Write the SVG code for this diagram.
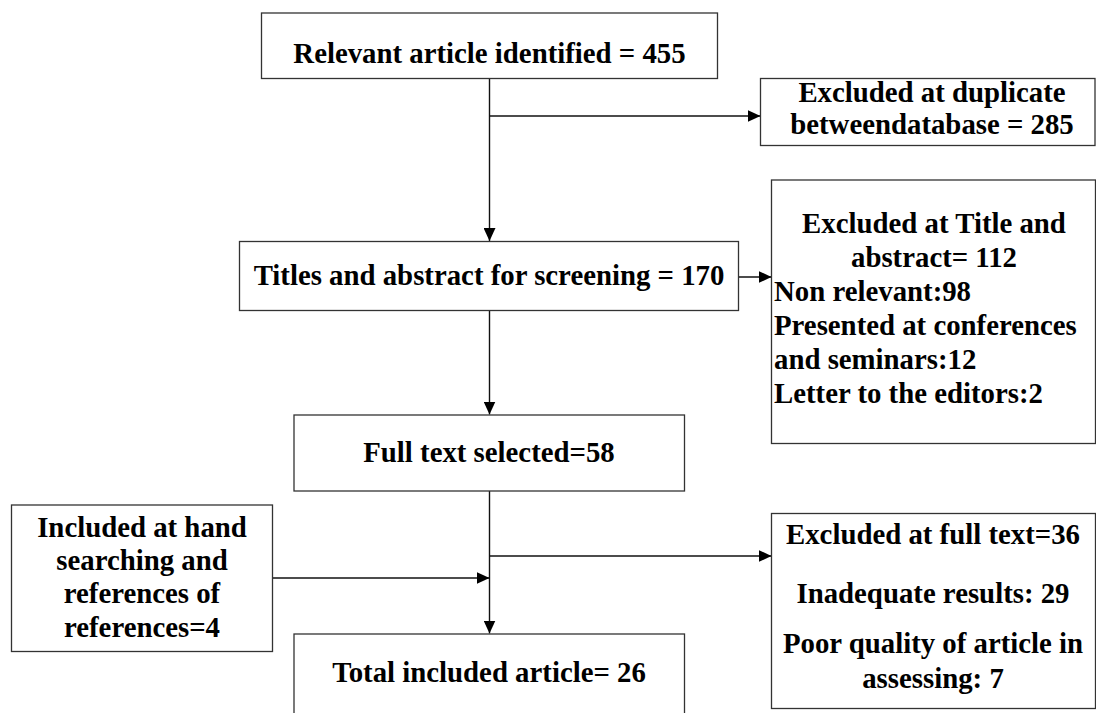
<svg xmlns="http://www.w3.org/2000/svg" width="1096" height="713" viewBox="0 0 1096 713">
  <style>
    .box { fill: #ffffff; stroke: #333333; stroke-width: 1.3; }
    .t { font-family: "Liberation Serif", "Times New Roman", serif; font-weight: bold; font-size: 28.8px; fill: #000000; }
    .c { text-anchor: middle; }
    .l { text-anchor: start; }
    .edge { stroke: #111111; stroke-width: 1.4; fill: none; }
  </style>
  <defs>
    <marker id="arr" viewBox="0 0 13 12" refX="13" refY="6" markerWidth="13" markerHeight="12" markerUnits="userSpaceOnUse" orient="auto">
      <path d="M0,0 L13,6 L0,12 z" fill="#000000"/>
    </marker>
  </defs>
  <rect width="1096" height="713" fill="#ffffff"/>

  <g id="connectors">
    <line class="edge" x1="489.5" y1="78.5" x2="489.5" y2="241" marker-end="url(#arr)"/>
    <line class="edge" x1="489.5" y1="116" x2="760.5" y2="116" marker-end="url(#arr)"/>
    <line class="edge" x1="738.5" y1="277" x2="771.5" y2="277" marker-end="url(#arr)"/>
    <line class="edge" x1="489.5" y1="310.5" x2="489.5" y2="414.5" marker-end="url(#arr)"/>
    <line class="edge" x1="489.5" y1="491" x2="489.5" y2="633.5" marker-end="url(#arr)"/>
    <line class="edge" x1="489.5" y1="556" x2="771.5" y2="556" marker-end="url(#arr)"/>
    <line class="edge" x1="272.5" y1="578" x2="489.5" y2="578" marker-end="url(#arr)"/>
  </g>

  <g id="identified">
    <rect class="box" x="261.5" y="13" width="456" height="65.5"/>
    <text class="t c" x="489.5" y="63">Relevant article identified = 455</text>
  </g>

  <g id="duplicates">
    <rect class="box" x="760.5" y="78.5" width="334.5" height="67"/>
    <text class="t c" x="932" y="102">Excluded at duplicate</text>
    <text class="t c" x="932" y="134">betweendatabase = 285</text>
  </g>

  <g id="screening">
    <rect class="box" x="239.5" y="241.5" width="499" height="69"/>
    <text class="t c" x="489" y="285">Titles and abstract for screening = 170</text>
  </g>

  <g id="excluded-title">
    <rect class="box" x="771.5" y="180" width="324" height="263.5"/>
    <text class="t c" x="934" y="233">Excluded at Title and</text>
    <text class="t c" x="934" y="267">abstract= 112</text>
    <text class="t l" x="774" y="301">Non relevant:98</text>
    <text class="t l" x="774" y="335">Presented at conferences</text>
    <text class="t l" x="774" y="369">and seminars:12</text>
    <text class="t l" x="774" y="403">Letter to the editors:2</text>
  </g>

  <g id="fulltext">
    <rect class="box" x="294" y="415" width="390.5" height="76"/>
    <text class="t c" x="489" y="462">Full text selected=58</text>
  </g>

  <g id="hand-search">
    <rect class="box" x="11.5" y="505" width="261" height="146.5"/>
    <text class="t c" x="142" y="537">Included at hand</text>
    <text class="t c" x="142" y="570">searching and</text>
    <text class="t c" x="142" y="603">references of</text>
    <text class="t c" x="142" y="637">references=4</text>
  </g>

  <g id="excluded-fulltext">
    <rect class="box" x="771.5" y="513.5" width="324" height="195"/>
    <text class="t c" x="933" y="544">Excluded at full text=36</text>
    <text class="t c" x="933" y="603">Inadequate results: 29</text>
    <text class="t c" x="933" y="653">Poor quality of article in</text>
    <text class="t c" x="933" y="688">assessing: 7</text>
  </g>

  <g id="total">
    <rect class="box" x="294" y="634" width="390.5" height="100"/>
    <text class="t c" x="489" y="682">Total included article= 26</text>
  </g>
</svg>
